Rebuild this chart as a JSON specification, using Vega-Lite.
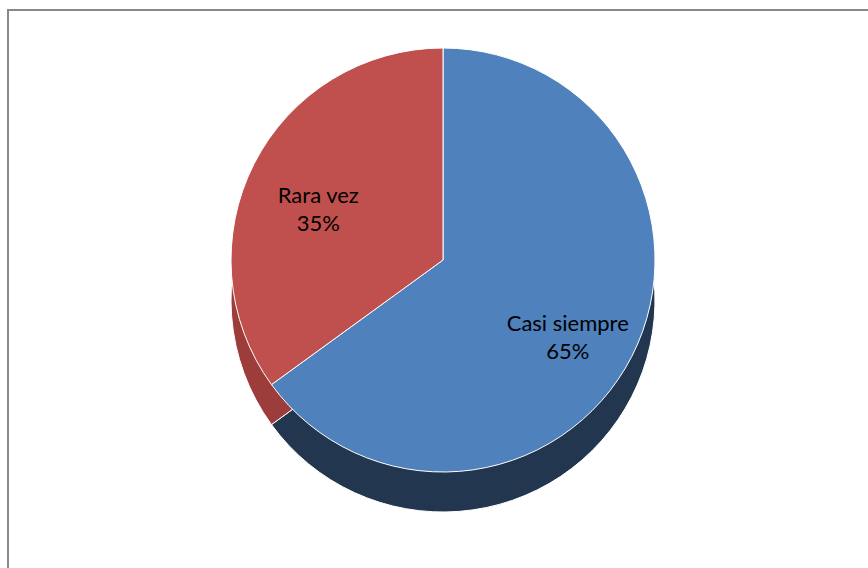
{
  "$schema": "https://vega.github.io/schema/vega-lite/v6.json",
  "width": 870,
  "height": 570,
  "padding": {"left": 8, "top": 10, "right": 0, "bottom": 0},
  "background": "white",
  "view": {"stroke": "#898989", "strokeWidth": 2},
  "data": {
    "values": [
      {"categoria": "Casi siempre", "pct": 65, "orden": 1, "etiqueta": "Casi siempre\n65%"},
      {"categoria": "Rara vez", "pct": 35, "orden": 2, "etiqueta": "Rara vez\n35%"}
    ]
  },
  "encoding": {
    "theta": {"field": "pct", "type": "quantitative", "stack": true},
    "order": {"field": "orden", "type": "quantitative"}
  },
  "layer": [
    {
      "mark": {"type": "arc", "outerRadius": 212, "yOffset": 5, "stroke": "white", "strokeWidth": 1},
      "encoding": {
        "color": {
          "field": "categoria", "type": "nominal",
          "scale": {"domain": ["Casi siempre", "Rara vez"], "range": ["#22364F", "#9C3D3B"]},
          "legend": null
        }
      }
    },
    {
      "mark": {"type": "arc", "outerRadius": 212, "yOffset": -35, "stroke": "white", "strokeWidth": 1},
      "encoding": {
        "color": {
          "field": "categoria", "type": "nominal",
          "scale": {"domain": ["Casi siempre", "Rara vez"], "range": ["#4F81BD", "#C0504D"]},
          "legend": null
        }
      }
    },
    {
      "mark": {"type": "text", "radius": 140, "yOffset": -35, "lineBreak": "\n", "font": "Lato", "fontSize": 22, "color": "#000000", "lineHeight": 28},
      "encoding": {
        "text": {"field": "etiqueta", "type": "nominal"}
      }
    }
  ],
  "resolve": {"scale": {"color": "independent"}}
}
